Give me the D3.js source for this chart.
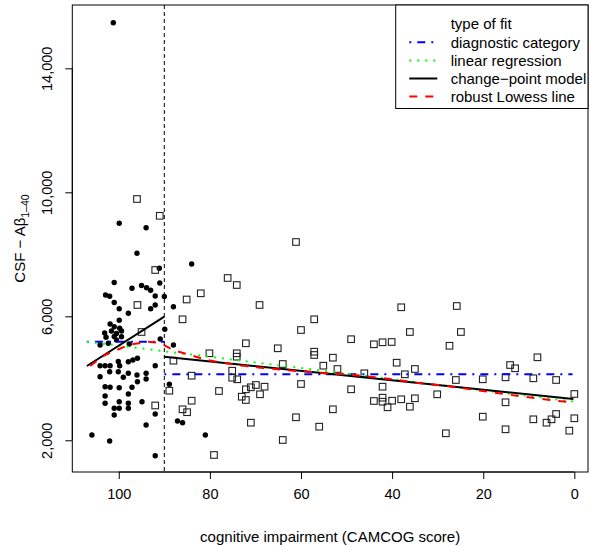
<!DOCTYPE html>
<html><head><meta charset="utf-8">
<script src="https://cdn.jsdelivr.net/npm/d3@7"></script>
<style>body{margin:0;background:#fff}svg{display:block}</style>
</head><body>
<svg id="c" width="600" height="547"></svg>
<script>
// ---- data ----
const xLimits = [110.2, -3.0];
const yLimits = [977, 16043];
const xTicks = [0, 20, 40, 60, 80, 100];
const yTicks = [2000, 6000, 10000, 14000];
const changePoint = 90;

// filled dots (CAMCOG score, CSF-Abeta1-40)
const dots = [[101.2,15472],[99.9,9000],[94.0,8859],[96.0,8033],[91.1,7549],[84.0,7687],[101.0,7091],[97.1,6904],[95.0,6994],[93.9,6920],[93.0,6839],[91.0,7075],[92.0,6655],[102.9,6687],[102.0,6645],[101.0,6445],[99.9,6242],[97.9,6097],[93.0,6242],[92.0,6365],[90.0,6639],[88.0,6310],[99.9,5871],[101.9,5752],[101.0,5665],[89.9,5581],[99.8,5613],[101.6,5526],[103.1,5461],[99.4,5526],[100.5,5445],[102.8,5323],[101.0,5349],[99.4,5342],[104.1,5074],[102.3,5129],[100.5,5236],[97.7,5107],[90.9,5268],[88.0,5074],[104.1,4407],[103.0,4407],[101.9,4407],[100.1,4542],[99.8,4407],[97.9,4536],[96.9,4590],[95.9,4645],[92.0,4407],[102.0,4213],[100.1,4213],[104.1,4052],[99.0,4032],[97.9,4161],[96.0,4107],[94.0,4161],[95.9,3890],[94.0,3978],[88.9,3807],[103.0,3729],[101.9,3710],[99.9,3697],[97.1,3710],[97.9,3494],[103.0,3429],[99.9,3245],[103.0,3194],[97.9,3194],[94.9,3245],[101.0,3032],[99.9,3032],[97.9,3032],[92.0,2848],[101.0,2816],[87.1,2623],[86.0,2568],[94.0,2494],[105.9,2171],[102.0,1977],[92.0,1503],[81.0,2171]];

// open squares
const squares = [[96.0,9784],[91.0,9242],[92.0,7494],[85.1,6542],[95.9,6365],[86.0,5903],[95.0,5494],[88.0,4568],[88.9,3600],[92.0,3123],[86.0,3000],[85.0,2906],[84.0,4084],[84.0,3277],[78.0,3590],[80.1,4807],[76.1,7236],[74.1,7010],[82.0,6742],[69.1,6365],[61.1,8397],[60.0,5558],[72.1,5129],[65.1,4968],[74.1,4807],[74.1,4697],[64.0,4461],[75.1,4245],[75.1,4019],[74.0,3968],[60.0,3816],[69.9,3784],[71.0,3710],[68.0,3729],[72.1,3645],[69.0,3484],[73.0,3407],[72.1,3300],[61.1,2742],[71.0,2568],[64.0,2010],[79.1,1526],[38.0,6291],[57.1,5903],[36.1,5494],[49.0,5261],[44.0,5097],[42.1,5161],[40.1,5171],[27.4,5049],[57.1,4858],[57.1,4752],[53.0,4665],[55.1,4407],[52.0,4300],[39.0,4503],[35.0,4300],[37.2,4129],[46.1,4161],[49.0,3645],[42.1,3729],[30.1,3484],[44.0,3268],[42.1,3374],[42.1,3245],[40.0,3277],[38.0,3323],[35.0,3355],[41.0,3065],[36.1,3084],[53.0,3000],[56.0,2439],[28.2,2226],[8.1,4678],[14.1,4429],[13.0,4323],[26.0,3945],[20.1,3968],[15.1,4032],[9.0,4000],[4.0,3945],[0.0,3494],[15.1,3226],[20.1,2761],[4.0,2848],[9.0,2677],[5.0,2677],[6.1,2568],[0.0,2710],[1.1,2310],[15.1,2355],[25.8,6332],[24.9,5494]];

// fitted lines
const diagLeftX = [107.0, 90.0], diagLeftY = [5181, 5181];
const diagRightX = [90.0, 0.4], diagRightY = [4129, 4129];
const linRegX = [107.0, 0.2], linRegY = [5181, 3252];
const cpLeftX = [107.0, 90.0], cpLeftY = [4397, 5987];
const cpRightX = [90.0, 0.2], cpRightY = [4697, 3332];
const lowessX = [106.3,103.0,97.9,93.8,90.9,88.1,85.1,80.7,74.1,68.3,60.9,48.6,40.5,34.6,28.0,20.1,12.7,5.4,1.4];
const lowessY = [4397,4752,5074,5181,5139,4913,4784,4590,4429,4332,4235,4107,3978,3858,3752,3590,3439,3300,3236];

const legendLabels = ["diagnostic category","linear regression","change\u2212point model","robust Lowess line"];
const legendColors = ["#0000FF","#00FF00","#000000","#FF0000"];
const legendDash = ["2,6,8,6","2,6","none","8,8"];

// ---- drawing ----
const FONT = "'Liberation Sans', Arial, Helvetica, sans-serif";
const svg = d3.select("#c");
const L = 72.3, R = 588, T = 5, B = 472;
const x = d3.scaleLinear().domain(xLimits).range([L, R]);
const y = d3.scaleLinear().domain(yLimits).range([B, T]);

// axes
const xAxis = d3.axisBottom(x).tickValues(xTicks).tickSize(7).tickPadding(10).tickFormat(d3.format("d"));
const gx = svg.append("g").attr("transform", `translate(0,${B})`).call(xAxis);
gx.select(".domain").attr("d", `M${x(xTicks[xTicks.length-1])},0H${x(xTicks[0])}`);
gx.selectAll("text").attr("font-family", FONT).attr("font-size", 14.5).attr("fill", "#000").attr("dy", "0.71em");
gx.selectAll("line,path").attr("stroke", "#000");

const yAxis = d3.axisLeft(y).tickValues(yTicks).tickSize(7).tickPadding(0).tickFormat(d3.format(","));
const gy = svg.append("g").attr("transform", `translate(${L},0)`).call(yAxis);
gy.select(".domain").attr("d", `M0,${y(yTicks[0])}V${y(yTicks[yTicks.length-1])}`);
gy.selectAll("line,path").attr("stroke", "#000");
gy.selectAll("text").attr("font-family", FONT).attr("font-size", 14.5).attr("fill", "#000")
  .attr("text-anchor", "middle").attr("x", 0).attr("y", 0).attr("dy", null)
  .attr("transform", "translate(-20,0) rotate(-90)");

// points
const plot = svg.append("g");
plot.selectAll("circle").data(dots).join("circle")
  .attr("cx", d => x(d[0])).attr("cy", d => y(d[1])).attr("r", 2.7).attr("fill", "#000");
const s = 6.6;
plot.selectAll("rect").data(squares).join("rect")
  .attr("x", d => x(d[0]) - s/2).attr("y", d => y(d[1]) - s/2).attr("width", s).attr("height", s)
  .attr("fill", "none").attr("stroke", "#222").attr("stroke-width", 1.1);

// lines
const line = d3.line().x(d => x(d[0])).y(d => y(d[1]));
function drawLine(xs, ys, color, dash) {
  svg.append("path").datum(xs.map((v, i) => [v, ys[i]])).attr("d", line)
    .attr("fill", "none").attr("stroke", color).attr("stroke-width", 2)
    .attr("stroke-dasharray", dash === "none" ? null : dash);
}
drawLine(diagLeftX, diagLeftY, legendColors[0], legendDash[0]);
drawLine(diagRightX, diagRightY, legendColors[0], legendDash[0]);
drawLine(linRegX, linRegY, legendColors[1], legendDash[1]);
drawLine(cpLeftX, cpLeftY, legendColors[2], legendDash[2]);
drawLine(cpRightX, cpRightY, legendColors[2], legendDash[2]);
drawLine(lowessX, lowessY, legendColors[3], legendDash[3]);

// change point vertical line
svg.append("line").attr("x1", x(changePoint)).attr("x2", x(changePoint)).attr("y1", T).attr("y2", B)
  .attr("stroke", "#000").attr("stroke-width", 1).attr("stroke-dasharray", "4,3");

// box
svg.append("rect").attr("x", L).attr("y", T).attr("width", R - L).attr("height", B - T)
  .attr("fill", "none").attr("stroke", "#000").attr("stroke-width", 1);

// axis titles
svg.append("text").attr("x", (L + R) / 2).attr("y", 542).attr("text-anchor", "middle").attr("fill", "#000")
  .attr("font-family", FONT).attr("font-size", 15).text("cognitive impairment (CAMCOG score)");
const yt = svg.append("text").attr("transform", `translate(25,${(T + B) / 2}) rotate(-90)`)
  .attr("text-anchor", "middle").attr("font-family", FONT).attr("font-size", 15).attr("fill", "#000");
yt.append("tspan").text("CSF \u2212 A\u03B2");
yt.append("tspan").attr("font-size", 10.5).attr("dy", 4).text("1\u201340");

// legend
const lg = svg.append("g");
lg.append("rect").attr("x", 395.7).attr("y", T).attr("width", R - 395.7).attr("height", 103.5)
  .attr("fill", "#fff").attr("stroke", "#000").attr("stroke-width", 1);
lg.append("text").attr("x", 450.7).attr("y", 24).attr("dy", "0.35em").attr("fill", "#000")
  .attr("font-family", FONT).attr("font-size", 15).text("type of fit");
legendLabels.forEach((lab, i) => {
  const yy = 42.3 + i * 18.1;
  lg.append("line").attr("x1", 409.3).attr("x2", 437.3).attr("y1", yy).attr("y2", yy)
    .attr("stroke", legendColors[i]).attr("stroke-width", 2)
    .attr("stroke-dasharray", legendDash[i] === "none" ? null : legendDash[i]);
  lg.append("text").attr("x", 450.7).attr("y", yy).attr("dy", "0.35em").attr("fill", "#000")
    .attr("font-family", FONT).attr("font-size", 15).text(lab);
});
</script>
</body></html>
